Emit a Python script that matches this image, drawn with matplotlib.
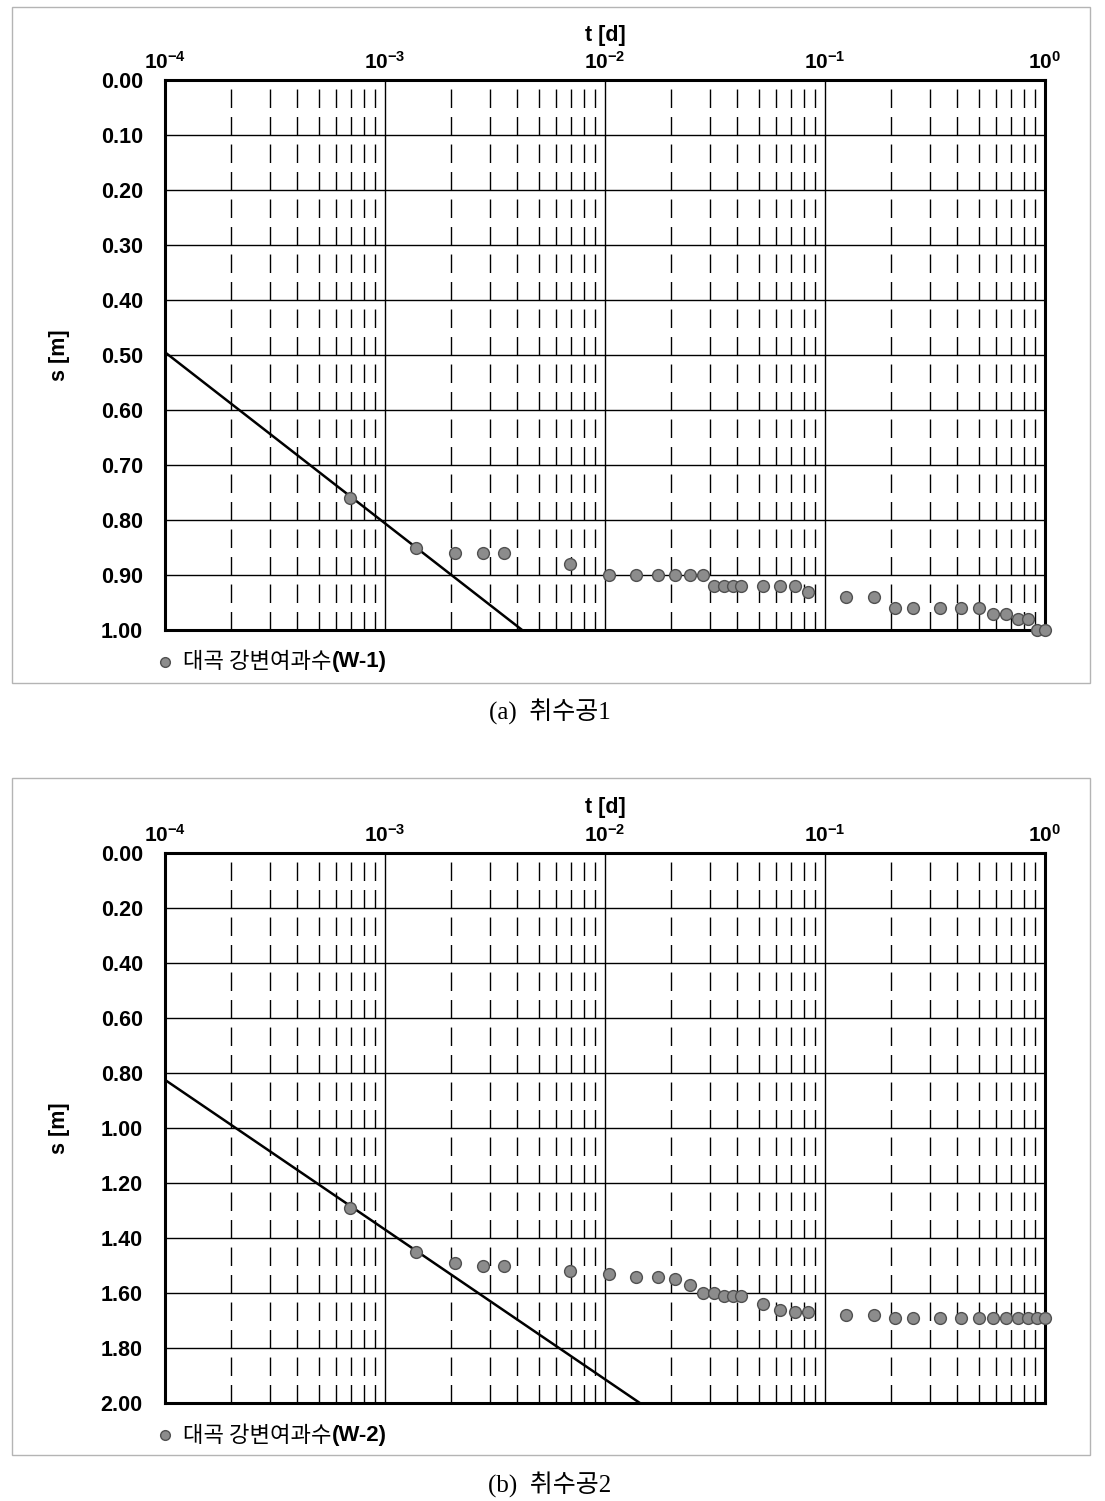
import numpy as np
import matplotlib.pyplot as plt
import matplotlib.ticker as mtick
from matplotlib.lines import Line2D
from matplotlib.patches import Rectangle

plt.rcParams['font.family'] = ['Liberation Sans', 'Noto Sans CJK KR']
plt.rcParams['mathtext.fontset'] = 'custom'
plt.rcParams['mathtext.rm'] = 'Liberation Sans:bold'
plt.rcParams['mathtext.bf'] = 'Liberation Sans:bold'
plt.rcParams['mathtext.it'] = 'Liberation Sans:bold'

# elapsed time [d] (1 min ... 24 h), same for both wells
t_days = [6.94e-4, 1.39e-3, 2.08e-3, 2.78e-3, 3.47e-3, 6.94e-3,
          1.04e-2, 1.39e-2, 1.74e-2, 2.08e-2, 2.43e-2, 2.78e-2,
          3.13e-2, 3.47e-2, 3.82e-2, 4.17e-2, 5.21e-2, 6.25e-2, 7.29e-2, 8.33e-2,
          0.125, 0.167, 0.208, 0.250, 0.333, 0.417, 0.500, 0.583, 0.667,
          0.750, 0.833, 0.917, 1.000]

# drawdown [m]
s_w1 = [0.76, 0.85, 0.86, 0.86, 0.86, 0.88,
        0.90, 0.90, 0.90, 0.90, 0.90, 0.90,
        0.92, 0.92, 0.92, 0.92, 0.92, 0.92, 0.92, 0.93,
        0.94, 0.94, 0.96, 0.96, 0.96, 0.96, 0.96, 0.97, 0.97,
        0.98, 0.98, 1.00, 1.00]
s_w2 = [1.29, 1.45, 1.49, 1.50, 1.50, 1.52,
        1.53, 1.54, 1.54, 1.55, 1.57, 1.60,
        1.60, 1.61, 1.61, 1.61, 1.64, 1.66, 1.67, 1.67,
        1.68, 1.68, 1.69, 1.69, 1.69, 1.69, 1.69, 1.69, 1.69,
        1.69, 1.69, 1.69, 1.69]

# Cooper-Jacob straight line fits
fit_w1_t = [1e-4, 4.2e-3]
fit_w1_s = [0.495, 1.00]
fit_w2_t = [1e-4, 1.44e-2]
fit_w2_s = [0.825, 2.00]

W, H = 1105, 1501
fig = plt.figure(figsize=(W / 100, H / 100), dpi=100, facecolor='white')


def fx(px):
    return px / W


def fy(py):
    return 1 - py / H


def draw_panel(top, t, s, fit_t, fit_s, ymax, ystep, well, caption, frame):
    x0, y0, x1, y1 = frame
    fig.add_artist(Rectangle((fx(x0), fy(y1)), (x1 - x0) / W, (y1 - y0) / H,
                             transform=fig.transFigure, fill=False,
                             ec='#b4b4b4', lw=1))

    ax = fig.add_axes([fx(165), fy(top + 550), 880 / W, 550 / H])
    ax.set_xscale('log')
    ax.set_xlim(1e-4, 1)
    ax.set_ylim(ymax, 0)

    ax.xaxis.set_major_locator(mtick.LogLocator(base=10, numticks=10))
    ax.xaxis.set_minor_locator(mtick.LogLocator(base=10, subs=range(2, 10), numticks=10))
    ax.xaxis.set_minor_formatter(mtick.NullFormatter())
    ax.xaxis.set_major_formatter(mtick.FuncFormatter(
        lambda v, p: r'$\mathbf{10^{%d}}$' % round(np.log10(v))))
    ax.yaxis.set_major_locator(mtick.MultipleLocator(ystep))
    ax.yaxis.set_major_formatter(mtick.FormatStrFormatter('%.2f'))

    ax.tick_params(which='both', length=0, top=True, bottom=False,
                   labeltop=True, labelbottom=False)
    ax.tick_params(axis='x', pad=5, labelsize=15)
    ax.tick_params(axis='y', pad=16, labelsize=15.5)
    for lab in ax.get_yticklabels():
        lab.set_fontweight('bold')

    ax.grid(which='major', axis='both', color='black', lw=1.0, ls='-')
    ax.grid(which='minor', axis='x', color='black', lw=1.0, ls=(0, (13.3, 6.5)))
    ax.set_axisbelow(True)
    for sp in ax.spines.values():
        sp.set_linewidth(2.2)

    ax.plot(fit_t, fit_s, color='black', lw=1.8, zorder=3)
    ax.plot(t, s, ls='none', marker='o', ms=8.5, mfc='#8c8c8c', mec='#505050',
            mew=1.0, zorder=4, clip_on=False)

    fig.text(fx(605), fy(top - 45), 't [d]', ha='center', va='center',
             weight='bold', size=15.5)
    fig.text(fx(60), fy(top + 275), 's [m]', ha='center', va='center',
             weight='bold', size=15.5, rotation=90)

    # legend
    ly = top + 582
    fig.add_artist(Line2D([fx(165)], [fy(ly)], transform=fig.transFigure,
                          marker='o', ms=7, mfc='#8c8c8c', mec='#505050', mew=1.0))
    t1 = fig.text(fx(183), fy(ly), '대곡 강변여과수', family='Noto Sans CJK KR',
                  size=16, va='center', ha='left')
    ax.annotate(well, xy=(1, 0.5), xycoords=t1, va='center', ha='left',
                weight='bold', size=16, annotation_clip=False)

    fig.text(fx(550), fy(top + 632), caption, ha='center', va='center', size=18,
             family=['Liberation Serif', 'Noto Sans CJK KR'])
    return ax


draw_panel(80, t_days, s_w1, fit_w1_t, fit_w1_s, 1.0, 0.1,
           '(W-1)', '(a)  취수공1', (12, 7, 1090, 683))
draw_panel(853, t_days, s_w2, fit_w2_t, fit_w2_s, 2.0, 0.2,
           '(W-2)', '(b)  취수공2', (12, 778, 1090, 1455))

fig.savefig('out.png', dpi=100)
